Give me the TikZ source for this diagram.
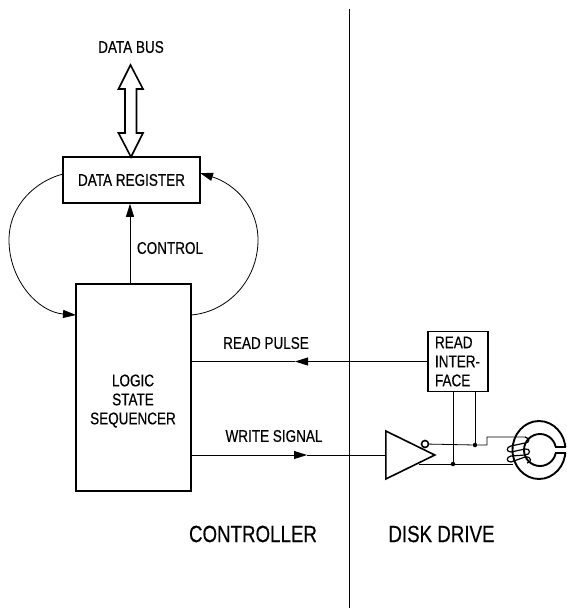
\documentclass[tikz,border=0pt]{standalone}
\usepackage{fontspec}
\setmainfont[FakeStretch=0.8,FakeBold=0.4]{Liberation Sans}
\usetikzlibrary{positioning,shapes.geometric,arrows.meta,calc}

\begin{document}
\begin{tikzpicture}[x=1pt,y=-1pt,
    block/.style={rectangle, draw, line width=1.6pt, inner sep=0pt, align=center, font=\fontsize{16.9}{19}\selectfont},
    label/.style={inner sep=0pt, align=center, font=\fontsize{16.9}{19}\selectfont},
    biglabel/.style={inner sep=0pt, font=\fontsize{23.4}{26}\selectfont},
    wire/.style={line width=0.8pt},
    arrow/.style={wire,-{Triangle[length=13pt,width=8pt]}},
    heavy/.style={line width=1.6pt},
    junction/.style={circle, fill, inner sep=0pt, minimum size=4.5pt}
]
\useasboundingbox (0,0) rectangle (566,614);

\node[label] (busname) at (131,47) {DATA BUS};
\node[block, minimum width=137, minimum height=46] (datareg) at (131.5,180) {DATA REGISTER};
\node[block, minimum width=115, minimum height=207] (lss) at (133.5,387.5) {};
\node[label] (lssname) at (133,401) {LOGIC\\STATE\\SEQUENCER};
\node[block, minimum width=60, minimum height=60, text width=46, align=left] (readif) at (458,361.5) {READ\\INTER-\\FACE};
\node[label] (ctrlname) at (170,248) {CONTROL};
\node[label] (readname) at (266,343) {READ PULSE};
\node[label] (writename) at (274,436) {WRITE SIGNAL};
\node[biglabel] (ctrlside) at (253,534) {CONTROLLER};
\node[biglabel] (driveside) at (441.5,534) {DISK DRIVE};

% divider
\coordinate (divtop) at (349,9);
\coordinate (divbot) at (349,608);
\draw[line width=0.7pt] (divtop) -- (divbot);

% data bus
\draw[heavy, fill=white] (130.5,65) -- (143,89) -- (136.5,89) -- (136.5,133) -- (143,133) -- (131,157)
    -- (118.5,133) -- (125,133) -- (125,89) -- (118.5,89) -- cycle;

% control and the two arcs
\draw[arrow] (lss.north -| 130,0) -- (datareg.south -| 130,0);
\coordinate (leftout) at (63,174);
\coordinate (leftin) at (76,315);
\coordinate (rightout) at (191,315);
\coordinate (rightin) at (200,173);
\draw[arrow] (leftout) .. controls (36,181) and (9,205) .. (9,240) .. controls (9,280) and (38,312) .. (leftin);
\draw[arrow] (rightout) .. controls (228,312) and (258,280) .. (258,240) .. controls (258,207) and (235,184) .. (rightin);

% read and write lines
\coordinate (readtip) at (295,361.5);
\coordinate (writetip) at (307,455);
\draw[arrow] (readif.west) -- (readtip);
\draw[wire] (readtip) -- (lss.east |- readtip);
\draw[arrow] (lss.east |- writetip) -- (writetip);

% driver
\node[isosceles triangle, isosceles triangle stretches, draw, heavy, minimum width=48, minimum height=49, inner sep=0pt, anchor=lower side] (driver) at (385,455) {};
\draw[wire] (writetip) -- (driver.lower side);
\node[circle, draw, heavy, fill=white, inner sep=0pt, minimum size=7pt] (bubble) at (425,444) {};

\node[junction] (dotlow) at (453,464) {};
\node[junction] (dothigh) at (475,445) {};
\coordinate (lowend) at (513,464);
\coordinate (step) at (487,445);
\coordinate (highend) at (525,437);
\draw[wire] (readif.south -| dotlow) -- (dotlow);
\draw[wire] (readif.south -| dothigh) -- (dothigh);
\draw[wire] (bubble) -- (dothigh) -- (step) |- (highend);
\draw[wire] (419,464) -- (dotlow) -- (lowend);

% core
\draw[line width=1.9pt] (539,450) ellipse [x radius=26.5, y radius=29];
\draw[line width=1.9pt] (540,450) circle [radius=16];
\fill[white] (552,447) rectangle (570,453);
\draw[heavy] (555,447) -- (566,447) (555,453) -- (566,453);

% winding
\draw[line width=1.2pt] (highend) .. controls (530,438) and (530,443) .. (525,443) -- (511,446)
    .. controls (506,447) and (506,452) .. (511,452) -- (525,449)
    .. controls (531,448) and (531,455) .. (525,455) -- (511,456)
    .. controls (506,457) and (506,462) .. (511,462) -- (525,457)
    .. controls (532,456) and (532,463) .. (527,463);
\end{tikzpicture}
\end{document}
